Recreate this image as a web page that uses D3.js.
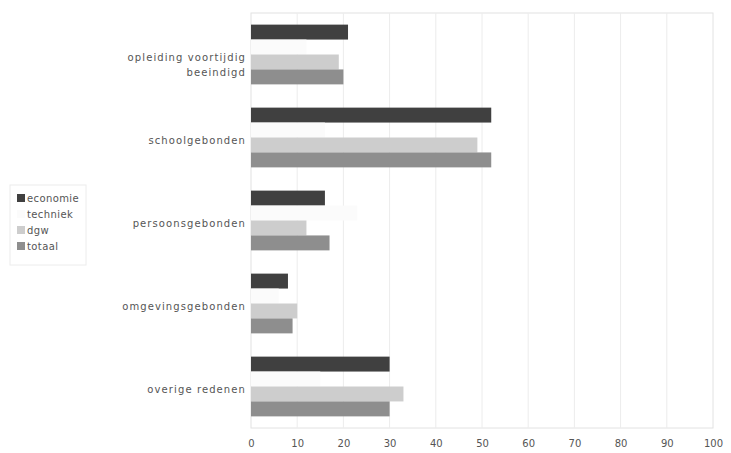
<!DOCTYPE html>
<html>
<head>
<meta charset="utf-8">
<script src="https://cdn.jsdelivr.net/npm/d3@7"></script>
<style>
  html, body { margin: 0; padding: 0; background: #ffffff; }
  svg text { font-family: "DejaVu Sans", Verdana, sans-serif; fill: #555; }
</style>
</head>
<body>
<svg id="chart" width="731" height="453"></svg>
<script>
// Redenen voor vertrek, percentage per opleiding
const categories = [
  ["opleiding voortijdig", "beeindigd"],
  ["schoolgebonden"],
  ["persoonsgebonden"],
  ["omgevingsgebonden"],
  ["overige redenen"]
];
const seriesNames = ["economie", "techniek", "dgw", "totaal"];
const economie = [21, 52, 16, 8, 30];
const techniek = [12, 16, 23, 6, 15];
const dgw      = [19, 49, 12, 10, 33];
const totaal   = [20, 52, 17, 9, 30];
const xTicks = [0, 10, 20, 30, 40, 50, 60, 70, 80, 90, 100];

const seriesValues = [economie, techniek, dgw, totaal];
const colors = ["#404040", "#fbfbfb", "#cdcdcd", "#8e8e8e"];

const svg = d3.select("#chart");
const plot = { left: 251, right: 713, top: 13, bottom: 428 };

const x = d3.scaleLinear().domain([0, 100]).range([plot.left, plot.right]);
const catIndex = categories.map((c, i) => i);
const y = d3.scaleBand().domain(catIndex).range([plot.top, plot.bottom])
  .paddingInner(0.28).paddingOuter(0.14);
const ySub = d3.scaleBand().domain(seriesNames).range([0, y.bandwidth()]);

// plot frame and vertical gridlines
svg.append("rect")
  .attr("x", plot.left).attr("y", plot.top)
  .attr("width", plot.right - plot.left).attr("height", plot.bottom - plot.top)
  .attr("fill", "none").attr("stroke", "#e2e2e2").attr("stroke-width", 1);

svg.append("g").selectAll("line").data(xTicks.slice(1, -1)).join("line")
  .attr("x1", d => x(d)).attr("x2", d => x(d))
  .attr("y1", plot.top).attr("y2", plot.bottom)
  .attr("stroke", "#ececec").attr("stroke-width", 1);

// bars
const groups = svg.append("g").selectAll("g").data(catIndex).join("g")
  .attr("transform", i => `translate(0,${y(i)})`);

groups.selectAll("rect")
  .data(i => seriesNames.map((s, k) => ({ s, k, v: seriesValues[k][i] })))
  .join("rect")
  .attr("x", x(0))
  .attr("y", d => ySub(d.s))
  .attr("width", d => x(d.v) - x(0))
  .attr("height", ySub.bandwidth())
  .attr("fill", d => colors[d.k]);

// x axis labels
const xAxis = d3.axisBottom(x).tickValues(xTicks).tickSize(0).tickPadding(12);
const gx = svg.append("g").attr("transform", `translate(0,${plot.bottom})`).call(xAxis);
gx.select(".domain").remove();
gx.selectAll("text")
  .style("font-family", "DejaVu Sans, Verdana, sans-serif")
  .style("font-size", "10px").attr("fill", "#555");

// category labels
const labels = svg.append("g").selectAll("text").data(catIndex).join("text")
  .attr("text-anchor", "end")
  .attr("x", plot.left - 5)
  .style("font-size", "10px")
  .style("letter-spacing", "1.1px");
labels.each(function (i) {
  const lines = categories[i];
  const cy = y(i) + y.bandwidth() / 2 + (lines.length > 1 ? 10 : 3);
  const t = d3.select(this);
  lines.forEach((ln, j) => {
    t.append("tspan")
      .attr("x", plot.left - 5)
      .attr("y", cy + (j - (lines.length - 1) / 2) * 15)
      .attr("dy", "0.35em")
      .text(ln);
  });
});

// legend
const legend = svg.append("g").attr("transform", "translate(10,185)");
legend.append("rect")
  .attr("width", 76).attr("height", 80)
  .attr("fill", "none").attr("stroke", "#ececec");
const items = legend.selectAll("g").data(seriesNames).join("g")
  .attr("transform", (d, k) => `translate(7,${13 + k * 16})`);
items.append("rect")
  .attr("x", 0).attr("y", -4).attr("width", 8).attr("height", 8)
  .attr("fill", (d, k) => colors[k]);
items.append("text")
  .attr("x", 10).attr("dy", "0.35em")
  .style("font-size", "10px")
  .style("letter-spacing", "0.4px")
  .text(d => d);
</script>
</body>
</html>
